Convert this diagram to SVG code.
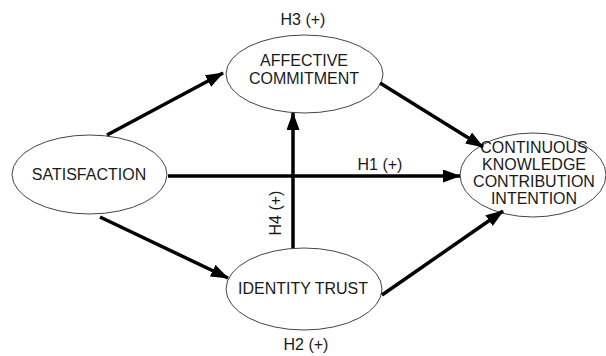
<svg xmlns="http://www.w3.org/2000/svg" width="606" height="356" viewBox="0 0 606 356">
<style>
.node ellipse{fill:#fff;stroke:#444;stroke-width:1}
text{font-family:"Liberation Sans",Arial,sans-serif;font-size:16px;fill:#1a1a1a;text-anchor:middle}
.conn line{stroke:#000;stroke-width:3.5;marker-end:url(#ah)}
</style>
<defs>
<marker id="ah" viewBox="0 0 18 13" refX="17" refY="6.5" markerWidth="18" markerHeight="13" markerUnits="userSpaceOnUse" orient="auto">
<path d="M0,0 L18,6.5 L0,13 Z" fill="#000"/>
</marker>
</defs>
<rect width="606" height="356" fill="#fff"/>
<g id="satisfaction" class="node">
<ellipse cx="89.5" cy="174.5" rx="77.5" ry="39.5"/>
<text x="89" y="180">SATISFACTION</text>
</g>
<g id="affective-commitment" class="node">
<ellipse cx="304.5" cy="74" rx="78.5" ry="39"/>
<text x="304" y="66">AFFECTIVE</text>
<text x="304" y="84">COMMITMENT</text>
</g>
<g id="identity-trust" class="node">
<ellipse cx="304" cy="289" rx="78" ry="41"/>
<text x="303" y="294">IDENTITY TRUST</text>
</g>
<g id="continuous" class="node">
<ellipse cx="533" cy="175" rx="73" ry="42"/>
<text x="534" y="153">CONTINUOUS</text>
<text x="534" y="170">KNOWLEDGE</text>
<text x="534" y="187">CONTRIBUTION</text>
<text x="534" y="204">INTENTION</text>
</g>
<g id="connectors" class="conn">
<line x1="107" y1="135" x2="223" y2="73"/>
<line x1="168" y1="176" x2="460" y2="176"/>
<line x1="293" y1="248" x2="293" y2="113"/>
<line x1="100" y1="217" x2="228" y2="278"/>
<line x1="380" y1="83" x2="483" y2="147"/>
<line x1="382" y1="295" x2="503" y2="211"/>
</g>
<g id="labels">
<text x="303" y="25">H3 (+)</text>
<text x="380" y="170">H1 (+)</text>
<text x="306" y="350">H2 (+)</text>
<text transform="translate(281,213) rotate(-90)" y="0">H4 (+)</text>
</g>
</svg>
